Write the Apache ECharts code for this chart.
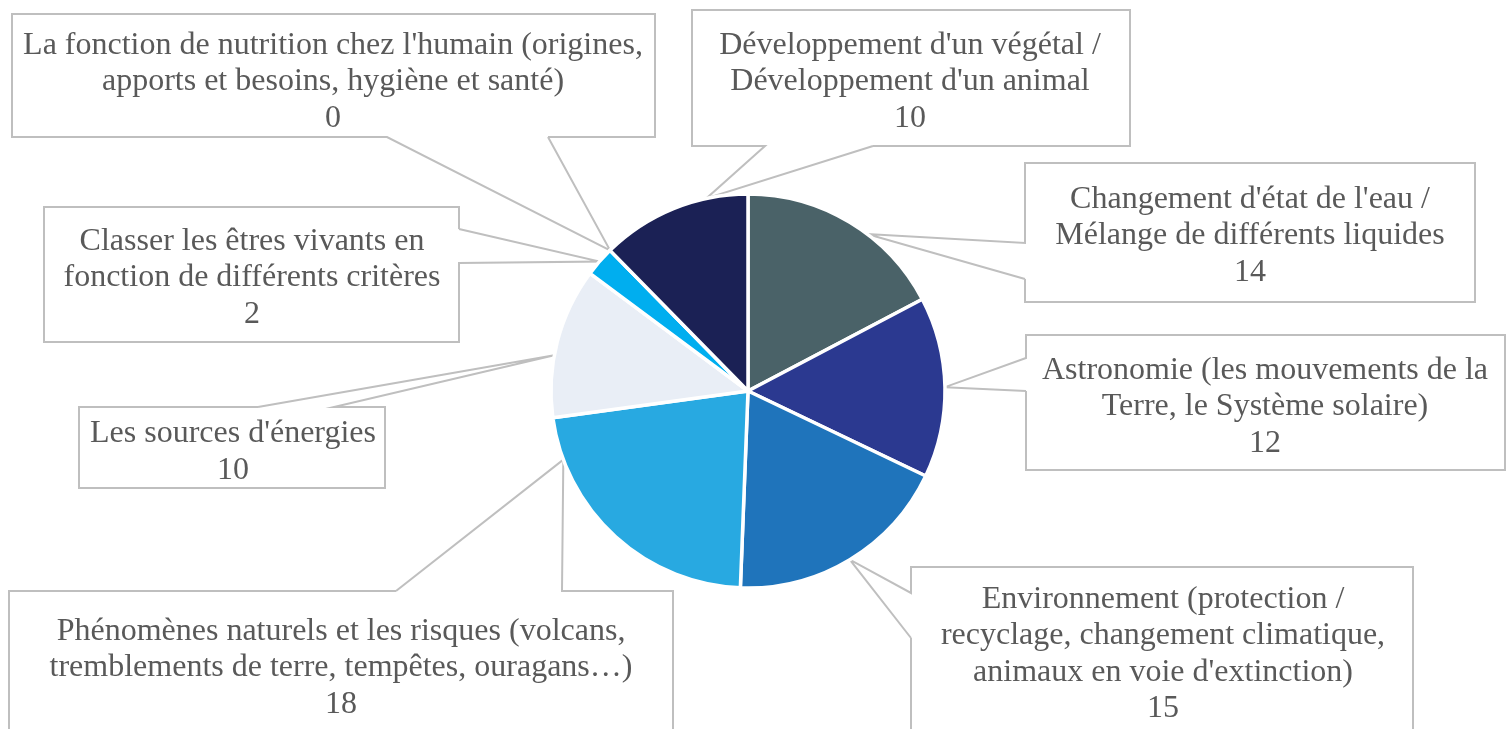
<!DOCTYPE html>
<html>
<head>
<meta charset="utf-8">
<script src="https://cdn.jsdelivr.net/npm/echarts@6/dist/echarts.min.js"></script>
<style>
html,body{margin:0;padding:0;background:#fff;}
#chart{width:1510px;height:729px;}
</style>
</head>
<body>
<div id="chart"></div>
<script>
// ---- data ----
const categories = [
  "Changement d'état de l'eau /\nMélange de différents liquides",
  "Astronomie (les mouvements de la\nTerre, le Système solaire)",
  "Environnement (protection /\nrecyclage, changement climatique,\nanimaux en voie d'extinction)",
  "Phénomènes naturels et les risques (volcans,\ntremblements de terre, tempêtes, ouragans…)",
  "Les sources d'énergies",
  "Classer les êtres vivants en\nfonction de différents critères",
  "La fonction de nutrition chez l'humain (origines,\napports et besoins, hygiène et santé)",
  "Développement d'un végétal /\nDéveloppement d'un animal"
];
const values = [14, 12, 15, 18, 10, 2, 0, 10];
const colors = ['#4a6268', '#2b3990', '#1f74bb', '#28a9e1', '#e9eef6', '#00aeef', '#4a6268', '#1b2155'];

// ---- layout (callout boxes) ----
const CX = 748, CY = 391;
const callouts = [
  {tx: 1250, ty: 236, box: [1025, 163, 1475, 302], edge: 'left',   a: 243, b: 279, off: 6},
  {tx: 1265, ty: 407, box: [1026, 335, 1505, 470], edge: 'left',   a: 358, b: 391, off: 0},
  {tx: 1163, ty: 654, box: [911, 567, 1413, 780],  edge: 'left',   a: 593, b: 638, off: 0},
  {tx: 341,  ty: 668, box: [9, 591, 673, 780],     edge: 'top',    a: 396, b: 562, off: 27.4},
  {tx: 233,  ty: 452, box: [79, 407, 385, 488],    edge: 'top',    a: 258, b: 334, off: -4},
  {tx: 252,  ty: 278, box: [44, 207, 459, 342],    edge: 'right',  a: 229, b: 263, off: 0},
  {tx: 333,  ty: 82,  box: [12, 14, 655, 137],     edge: 'bottom', a: 387, b: 548, off: 0},
  {tx: 910,  ty: 82,  box: [692, 10, 1130, 146],   edge: 'bottom', a: 765, b: 873, off: 10}
];

function calloutPath(c, tip) {
  const [x1, y1, x2, y2] = c.box;
  const C = [[x1, y1], [x2, y1], [x2, y2], [x1, y2]];
  const e = {top: 0, right: 1, bottom: 2, left: 3}[c.edge];
  const lo = Math.min(c.a, c.b), hi = Math.max(c.a, c.b);
  let p, q;
  if (e === 0) { p = [lo, y1]; q = [hi, y1]; }
  else if (e === 1) { p = [x2, lo]; q = [x2, hi]; }
  else if (e === 2) { p = [hi, y2]; q = [lo, y2]; }
  else { p = [x1, hi]; q = [x1, lo]; }
  const pts = [p, tip, q];
  for (let k = 1; k <= 4; k++) pts.push(C[(e + k) % 4]);
  pts.push(p);
  return pts;
}

const chart = echarts.init(document.getElementById('chart'), null, {renderer: 'canvas'});
chart.setOption({
  animation: false,
  backgroundColor: '#ffffff',
  series: [{
    type: 'pie',
    center: [CX, CY],
    radius: 197,
    startAngle: 90,
    clockwise: true,
    avoidLabelOverlap: false,
    minShowLabelAngle: 0,
    itemStyle: {borderColor: '#ffffff', borderWidth: 3.5},
    label: {
      show: true,
      position: 'outside',
      formatter: '{b}\n{c}',
      fontFamily: 'Liberation Serif',
      fontSize: 32,
      lineHeight: 36.5,
      color: '#595959',
      align: 'center'
    },
    labelLine: {
      show: true,
      length: 10,
      length2: 10,
      lineStyle: {color: '#bfbfbf', width: 2}
    },
    labelLayout: function (params) {
      const c = callouts[params.dataIndex];
      const pts = params.labelLinePoints;
      let tip = [CX, CY - 197];
      if (pts && pts.length) {
        const p0 = pts[0];
        const dx = p0[0] - CX, dy = p0[1] - CY;
        const R = Math.sqrt(dx * dx + dy * dy);
        const th = Math.atan2(dx, -dy) + c.off * Math.PI / 180;
        tip = [CX + R * Math.sin(th), CY - R * Math.cos(th)];
      }
      return {
        x: c.tx,
        y: c.ty,
        align: 'center',
        verticalAlign: 'middle',
        labelLinePoints: calloutPath(c, tip)
      };
    },
    emphasis: {disabled: true},
    data: categories.map((n, i) => ({name: n, value: values[i], itemStyle: {color: colors[i]}}))
  }]
});
</script>
</body>
</html>
